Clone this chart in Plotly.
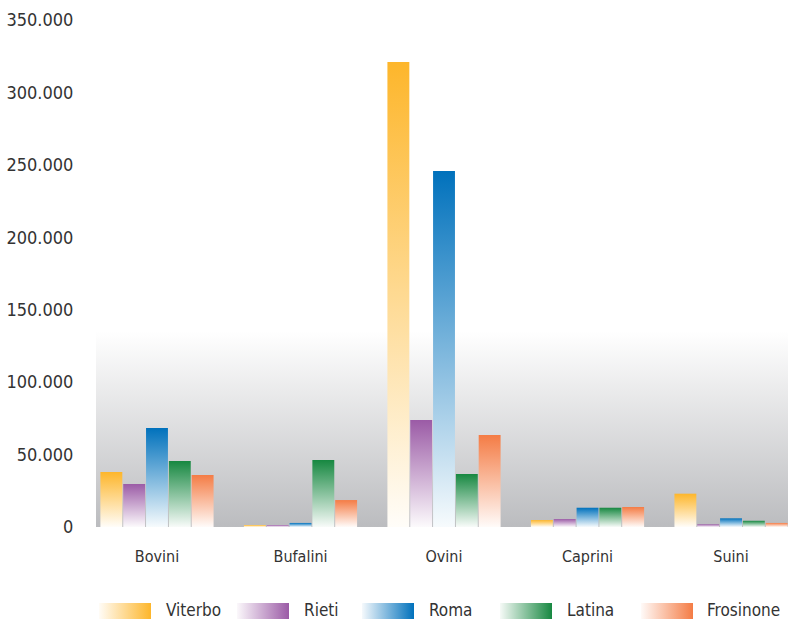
import json
from urllib.parse import quote

import plotly.graph_objects as go

# ---- data -------------------------------------------------------------
categories = ["Bovini", "Bufalini", "Ovini", "Caprini", "Suini"]
provinces = ["Viterbo", "Rieti", "Roma", "Latina", "Frosinone"]

viterbo = [38000, 1000, 321000, 4800, 23000]
rieti = [29700, 1300, 73800, 5500, 1900]
roma = [68300, 2800, 245700, 13300, 6000]
latina = [45500, 46200, 36600, 13300, 4300]
frosinone = [35900, 18600, 63500, 13800, 2800]

y_tick_values = [0, 50000, 100000, 150000, 200000, 250000, 300000, 350000]

# ---- style ------------------------------------------------------------
series = [viterbo, rieti, roma, latina, frosinone]
colors = ["#fdb62b", "#9b5ba6", "#0071bc", "#178841", "#f47c45"]
FONT = "DejaVu Sans Condensed, Liberation Sans Narrow, sans-serif"
TEXT_COLOR = "#333333"

W, H = 788, 619
M_L, M_R, M_T, M_B = 96, 0, 20, 92
PLOT_W = W - M_L - M_R
PLOT_H = H - M_T - M_B


def lighten(hex_color, amount):
    h = hex_color.lstrip("#")
    r, g, b = (int(h[i:i + 2], 16) for i in (0, 2, 4))
    mix = lambda c: round(c + (255 - c) * amount)
    return "#{:02x}{:02x}{:02x}".format(mix(r), mix(g), mix(b))


def svg_uri(svg):
    return "data:image/svg+xml;charset=utf-8," + quote(svg)


def gradient_svg(c_start, c_end, vertical):
    x2, y2 = ("0", "1") if vertical else ("1", "0")
    return svg_uri(
        '<svg xmlns="http://www.w3.org/2000/svg" width="100" height="100" '
        'viewBox="0 0 100 100" preserveAspectRatio="none">'
        f'<defs><linearGradient id="g" x1="0" y1="0" x2="{x2}" y2="{y2}">'
        f'<stop offset="0" stop-color="{c_start}"/>'
        f'<stop offset="1" stop-color="{c_end}"/></linearGradient></defs>'
        '<rect width="100" height="100" fill="url(#g)"/></svg>'
    )


fig = go.Figure()
for name, vals, col in zip(provinces, series, colors):
    fig.add_trace(go.Bar(
        x=categories, y=vals, name=name,
        marker=dict(color=col, line=dict(width=0)),
        showlegend=False,
        hovertemplate="%{x}<br>" + name + ": %{y:,d}<extra></extra>",
    ))

# grey shading rising from the baseline
images = [dict(
    source=gradient_svg("#ffffff", "#bbbcbf", vertical=True),
    xref="paper", yref="y", x=0, y=135000, sizex=1, sizey=135000,
    xanchor="left", yanchor="top", sizing="stretch", layer="below",
)]

# legend row: gradient swatch + label for each province
swatch_left_px = [99, 237, 362, 500, 641]
label_left_px = [164, 302, 427, 565, 705]
swatch_w_px, swatch_top_px, swatch_h_px = 52, 603, 16
annotations = []
for name, col, sx, tx in zip(provinces, colors, swatch_left_px, label_left_px):
    images.append(dict(
        source=gradient_svg(lighten(col, 0.96), col, vertical=False),
        xref="paper", yref="paper",
        x=(sx - M_L) / PLOT_W, y=(H - M_B - swatch_top_px) / PLOT_H,
        sizex=swatch_w_px / PLOT_W, sizey=swatch_h_px / PLOT_H,
        xanchor="left", yanchor="top", sizing="stretch", layer="above",
    ))
    annotations.append(dict(
        text=name, xref="paper", yref="paper",
        x=(tx - M_L) / PLOT_W,
        y=(H - M_B - (swatch_top_px + swatch_h_px / 2 - 1)) / PLOT_H,
        xanchor="left", yanchor="middle", showarrow=False,
        font=dict(family=FONT, size=17, color=TEXT_COLOR),
    ))

fig.update_layout(
    width=W, height=H,
    margin=dict(l=M_L, r=M_R, t=M_T, b=M_B, pad=0, autoexpand=False),
    paper_bgcolor="white", plot_bgcolor="rgba(0,0,0,0)",
    barmode="group", bargap=0.205, bargroupgap=0.04,
    separators=",.",
    font=dict(family=FONT, color=TEXT_COLOR),
    images=images,
    annotations=annotations,
    xaxis=dict(
        type="category", range=[-0.425, 4.397], automargin=False,
        showgrid=False, zeroline=False, showline=False,
        ticks="outside", ticklen=15, tickcolor="rgba(0,0,0,0)",
        tickfont=dict(family=FONT, size=16, color=TEXT_COLOR),
    ),
    yaxis=dict(
        range=[0, 350000], tickvals=y_tick_values, tickformat=",d",
        automargin=False,
        showgrid=False, zeroline=False, showline=False,
        ticks="outside", ticklen=18, tickcolor="rgba(0,0,0,0)",
        tickfont=dict(family=FONT, size=18, color=TEXT_COLOR),
    ),
)

# vertical white-to-colour fill for every bar
bar_stops = [[col, lighten(col, 0.97)] for col in colors]
post_js = """
var gd = document.getElementById('{plot_id}');
var stops = %s;
var NS = 'http://www.w3.org/2000/svg';
function paintBars() {
  var svg = gd.querySelector('svg.main-svg');
  var defs = svg.querySelector('defs');
  stops.forEach(function (s, i) {
    var id = 'bargrad' + i;
    if (document.getElementById(id)) return;
    var lg = document.createElementNS(NS, 'linearGradient');
    lg.setAttribute('id', id);
    lg.setAttribute('x1', '0'); lg.setAttribute('y1', '0');
    lg.setAttribute('x2', '0'); lg.setAttribute('y2', '1');
    [[0, s[0]], [1, s[1]]].forEach(function (st) {
      var e = document.createElementNS(NS, 'stop');
      e.setAttribute('offset', st[0]);
      e.setAttribute('stop-color', st[1]);
      lg.appendChild(e);
    });
    defs.appendChild(lg);
  });
  gd.querySelectorAll('g.trace.bars').forEach(function (t, i) {
    t.querySelectorAll('g.point path').forEach(function (p) {
      p.style.fill = 'url(#bargrad' + i + ')';
    });
  });
}
paintBars();
gd.on('plotly_afterplot', paintBars);
""" % json.dumps(bar_stops)

fig.write_html("out.html", post_script=post_js)
